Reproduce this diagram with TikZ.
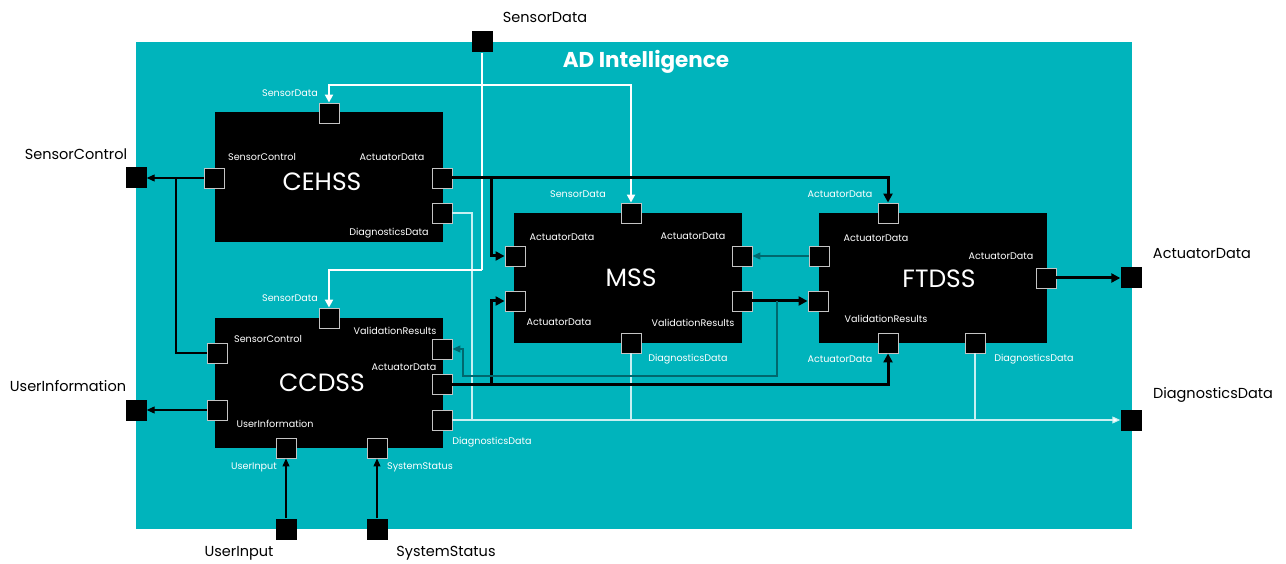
\documentclass[tikz,border=0pt]{standalone}
\usepackage{fontspec}
\setmainfont{Poppins}
\usetikzlibrary{arrows.meta}

\definecolor{systemfill}{HTML}{00B4BC}
\definecolor{portedge}{HTML}{C4C4C4}
\definecolor{darkflow}{HTML}{00686E}
\definecolor{diagflow}{HTML}{C8F0F2}

\tikzset{
  block/.style={fill=black, minimum width=228pt, minimum height=130pt, inner sep=0pt},
  blocktitle/.style={text=white, inner sep=0pt, font=\fontsize{25}{25}\selectfont},
  port/.style={fill=black, draw=portedge, line width=0.9pt, minimum size=20pt, inner sep=0pt},
  extport/.style={fill=black, minimum size=21pt, inner sep=0pt},
  plabel/.style={text=white, inner sep=0pt, font=\fontsize{9.6}{9.6}\selectfont},
  extlabel/.style={text=black, inner sep=0pt, font=\fontsize{14.5}{14.5}\selectfont},
  tip/.style={-{Triangle[length=8pt,width=7pt]}},
  sensorflow/.style={draw=white, line width=2.7pt},
  sensorarrow/.style={sensorflow, -{Triangle[length=8pt,width=8pt]}},
  actflow/.style={draw=black, line width=3pt},
  actarrow/.style={actflow, -{Triangle[length=9pt,width=9pt]}},
  thinflow/.style={draw=black, line width=1.1pt},
  thinarrow/.style={thinflow, tip},
  darkarrow/.style={draw=darkflow, line width=1.3pt, tip},
  diagline/.style={draw=diagflow, line width=1.1pt},
  diagarrow/.style={diagline, -{Triangle[length=8pt,width=7pt,fill=white]}},
}

\begin{document}
\begin{tikzpicture}[x=1pt, y=-1pt]
  \useasboundingbox (0,0) rectangle (1286,564);

  % system boundary
  \fill[systemfill] (136,42) rectangle (1132,529);
  \node[text=white, inner sep=0pt, font=\fontsize{21.5}{21.5}\selectfont\bfseries] (sysT) at (646,62) {AD Intelligence};

  % components
  \node[block] (cehss) at (328.5,177.5) {};
  \node[block] (ccdss) at (328.5,383) {};
  \node[block] (mss)   at (628,278) {};
  \node[block] (ftdss) at (933,278) {};
  \node[blocktitle] (cehssT) at (322,182) {CEHSS};
  \node[blocktitle] (ccdssT) at (322,383) {CCDSS};
  \node[blocktitle] (mssT)   at (631,278) {MSS};
  \node[blocktitle] (ftdssT) at (939,279) {FTDSS};

  % CEHSS ports
  \node[port] (ceSD) at (329,113) {};
  \node[port] (ceSC) at (214,178) {};
  \node[port] (ceAD) at (442,178) {};
  \node[port] (ceDG) at (442,213) {};
  % CCDSS ports
  \node[port] (ccSD)  at (329,318) {};
  \node[port] (ccSC)  at (217,353) {};
  \node[port] (ccUI)  at (217,410) {};
  \node[port] (ccVR)  at (442,349) {};
  \node[port] (ccAD)  at (442,384) {};
  \node[port] (ccDG)  at (442,420) {};
  \node[port] (ccUIn) at (286,448) {};
  \node[port] (ccSS)  at (377,448) {};
  % MSS ports
  \node[port] (msSD)  at (631,213) {};
  \node[port] (msADa) at (515,256) {};
  \node[port] (msADb) at (515,301) {};
  \node[port] (msADr) at (742,256) {};
  \node[port] (msVR)  at (742,301) {};
  \node[port] (msDG)  at (631,343) {};
  % FTDSS ports
  \node[port] (ftADt) at (888,213) {};
  \node[port] (ftADl) at (819,256) {};
  \node[port] (ftVR)  at (818,301) {};
  \node[port] (ftADr) at (1046,278) {};
  \node[port] (ftADb) at (888,343) {};
  \node[port] (ftDG)  at (975,343) {};

  % boundary ports
  \node[extport] (extSD)  at (482,42) {};
  \node[extport] (extSC)  at (136,178) {};
  \node[extport] (extUI)  at (136,410) {};
  \node[extport] (extUIn) at (286,529) {};
  \node[extport] (extSS)  at (377,529) {};
  \node[extport] (extAD)  at (1131,278) {};
  \node[extport] (extDG)  at (1131,420) {};

  % bend and branch points
  \coordinate (sdSplit) at (482,85);
  \coordinate (sdLow)   at (482,270);
  \coordinate (scJoin)  at (176,178);
  \coordinate (adSplitA) at (491,178);
  \coordinate (adSplitB) at (491,384);
  \coordinate (vrSplit) at (777,301);
  \coordinate (vrLow)   at (463,376);
  \coordinate (dgBus)   at (472,420);

  % diagnostics bus
  \draw[diagline] (ceDG.east) -| (dgBus);
  \draw[diagline] (msDG.south) -- (msDG.south |- dgBus);
  \draw[diagline] (ftDG.south) -- (ftDG.south |- dgBus);
  \draw[diagarrow] (ccDG.east) -- (extDG.west);

  % sensor data distribution
  \draw[sensorflow] (extSD.south) -- (sdLow);
  \draw[sensorarrow] (sdLow) -| (ccSD.north);
  \draw[sensorarrow] (sdSplit) -| (ceSD.north);
  \draw[sensorarrow] (sdSplit) -| (msSD.north);

  % sensor control and user information
  \draw[thinarrow] (ceSC.west) -- (extSC.east);
  \draw[thinflow] (ccSC.west) -| (scJoin);
  \draw[thinarrow] (ccUI.west) -- (extUI.east);
  \draw[thinarrow] (extUIn.north) -- (ccUIn.south);
  \draw[thinarrow] (extSS.north) -- (ccSS.south);

  % actuator data
  \draw[actarrow] (ceAD.east) -| (ftADt.north);
  \draw[actarrow] (adSplitA) |- (msADa.west);
  \draw[actarrow] (ccAD.east) -| (ftADb.south);
  \draw[actarrow] (adSplitB) |- (msADb.west);
  \draw[actarrow] (ftADr.east) -- (extAD.west);
  \draw[darkarrow] (ftADl.west) -- (msADr.east);

  % validation results
  \draw[actarrow] (msVR.east) -- (ftVR.west);
  \draw[darkarrow] (vrSplit) |- (vrLow) |- (ccVR.east);

  % port labels: CEHSS
  \node[plabel] (lCeSD) at (290,93)  {SensorData};
  \node[plabel] (lCeSC) at (262,157) {SensorControl};
  \node[plabel] (lCeAD) at (392,157) {ActuatorData};
  \node[plabel] (lCeDG) at (389,233) {DiagnosticsData};
  % port labels: CCDSS
  \node[plabel] (lCcSD)  at (290,298) {SensorData};
  \node[plabel] (lCcSC)  at (268,339) {SensorControl};
  \node[plabel] (lCcVR)  at (395,331) {ValidationResults};
  \node[plabel] (lCcAD)  at (404,367) {ActuatorData};
  \node[plabel] (lCcUI)  at (275,424) {UserInformation};
  \node[plabel] (lCcDG)  at (492,442) {DiagnosticsData};
  \node[plabel] (lCcUIn) at (254,467) {UserInput};
  \node[plabel] (lCcSS)  at (420,467) {SystemStatus};
  % port labels: MSS
  \node[plabel] (lMsSD)  at (578,194) {SensorData};
  \node[plabel] (lMsADa) at (562,237) {ActuatorData};
  \node[plabel] (lMsADr) at (693,236) {ActuatorData};
  \node[plabel] (lMsADb) at (559,322) {ActuatorData};
  \node[plabel] (lMsVR)  at (693,323) {ValidationResults};
  \node[plabel] (lMsDG)  at (688,359) {DiagnosticsData};
  % port labels: FTDSS
  \node[plabel] (lFtADt) at (840,194) {ActuatorData};
  \node[plabel] (lFtADl) at (876,238) {ActuatorData};
  \node[plabel] (lFtADr) at (1001,256) {ActuatorData};
  \node[plabel] (lFtVR)  at (886,319) {ValidationResults};
  \node[plabel] (lFtADb) at (840,359) {ActuatorData};
  \node[plabel] (lFtDG)  at (1034,359) {DiagnosticsData};

  % boundary port labels
  \node[extlabel] (lExtSD)  at (545,17)  {SensorData};
  \node[extlabel] (lExtSC)  at (76,154)  {SensorControl};
  \node[extlabel] (lExtUI)  at (68,386)  {UserInformation};
  \node[extlabel] (lExtUIn) at (239,553) {UserInput};
  \node[extlabel] (lExtSS)  at (446,553) {SystemStatus};
  \node[extlabel] (lExtAD)  at (1202,254) {ActuatorData};
  \node[extlabel] (lExtDG)  at (1213,395) {DiagnosticsData};
\end{tikzpicture}
\end{document}
